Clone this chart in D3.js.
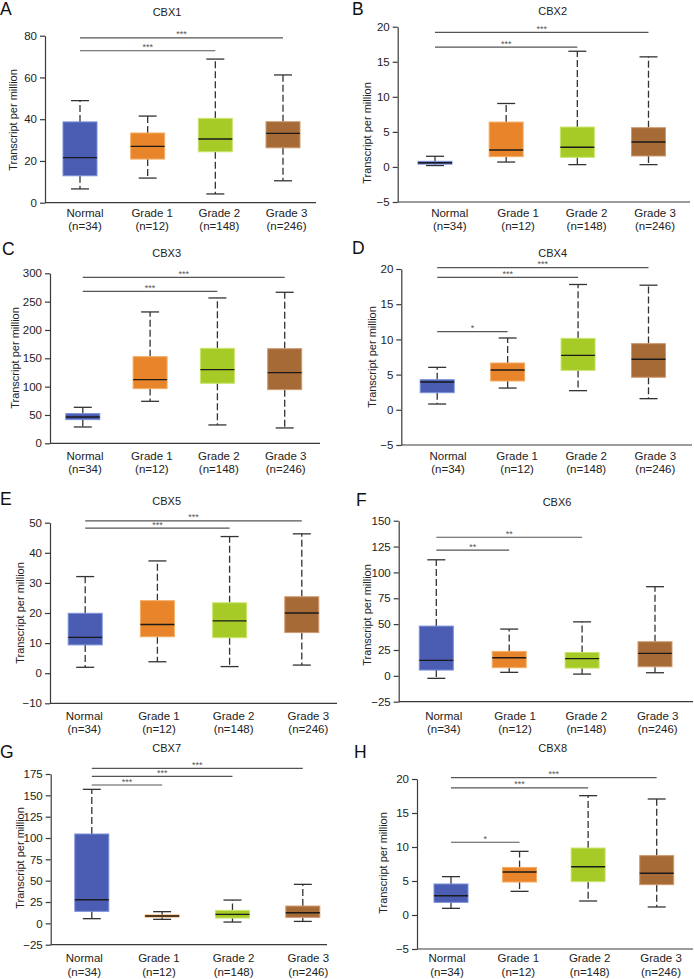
<!DOCTYPE html>
<html>
<head>
<meta charset="utf-8">
<script src="https://cdn.jsdelivr.net/npm/d3@7"></script>
<style>
  html, body { margin: 0; padding: 0; background: #fff; }
  svg { display: block; }
  text { font-family: "Liberation Sans", Arial, Helvetica, sans-serif; }
</style>
</head>
<body>
<script>
// ---------------- DATA ----------------
const categories = ["Normal", "Grade 1", "Grade 2", "Grade 3"];
const sampleSizes = ["(n=34)", "(n=12)", "(n=148)", "(n=246)"];
const genes = ["CBX1", "CBX2", "CBX3", "CBX4", "CBX5", "CBX6", "CBX7", "CBX8"];
const panelLetters = ["A", "B", "C", "D", "E", "F", "G", "H"];

// box statistics per gene, per category (Normal, Grade 1, Grade 2, Grade 3)
const whiskerMin = [
  [6.6, 11.8, 4.2, 10.5],
  [0.2, 0.7, 0.33, 0.33],
  [28.8, 74.1, 32.4, 27.1],
  [0.82, 3.09, 2.72, 1.58],
  [1.96, 3.8, 2.2, 2.7],
  [-2.4, 3.4, 1.7, 3.0],
  [5.5, 4.7, 1.56, 2.3],
  [0.98, 3.48, 2.06, 1.18]
];
const q1Values = [
  [12.9, 20.9, 24.4, 26.3],
  [0.4, 1.47, 1.37, 1.56],
  [41.8, 96.5, 105.9, 94.7],
  [2.43, 4.09, 5.6, 4.62],
  [9.4, 12.1, 11.8, 13.5],
  [5.6, 7.9, 7.5, 8.8],
  [14.1, 7.4, 6.25, 7.0],
  [1.86, 4.85, 4.9, 4.46]
];
const medians = [
  [21.6, 27.0, 30.5, 33.2],
  [0.6, 2.42, 2.8, 3.55],
  [46.5, 112.4, 130.0, 124.7],
  [3.95, 5.66, 7.73, 7.17],
  [11.9, 16.2, 17.4, 20.0],
  [15.0, 17.5, 16.6, 21.7],
  [27.7, 8.6, 10.5, 12.5],
  [2.84, 6.32, 7.1, 6.13]
];
const q3Values = [
  [38.7, 33.4, 40.4, 38.8],
  [0.8, 6.4, 5.69, 5.6],
  [52.4, 152.9, 167.6, 167.0],
  [4.28, 6.65, 10.15, 9.4],
  [19.9, 24.1, 23.4, 25.4],
  [48.1, 23.6, 22.6, 33.0],
  [104.7, 9.8, 15.2, 20.3],
  [4.56, 7.0, 9.85, 8.73]
];
const whiskerMax = [
  [48.9, 41.5, 68.8, 61.2],
  [1.52, 9.05, 16.5, 15.7],
  [63.5, 231.8, 256.5, 266.5],
  [6.03, 10.2, 17.8, 17.7],
  [32.1, 37.3, 45.4, 46.3],
  [112.2, 45.2, 52.2, 86.2],
  [157.0, 13.7, 27.3, 45.7],
  [5.64, 9.36, 17.55, 17.06]
];

const yDomains = [[0, 80], [-5, 20], [0, 300], [-5, 20], [-10, 50], [-25, 150], [-25, 175], [-5, 20]];
const yTicks = [
  [0, 20, 40, 60, 80],
  [-5, 0, 5, 10, 15, 20],
  [0, 50, 100, 150, 200, 250, 300],
  [-5, 0, 5, 10, 15, 20],
  [-10, 0, 10, 20, 30, 40, 50],
  [-25, 0, 25, 50, 75, 100, 125, 150],
  [-25, 0, 25, 50, 75, 100, 125, 150, 175],
  [-5, 0, 5, 10, 15, 20]
];
const yLabel = "Transcript per million";

// significance brackets: [target category index, bracket value, label] (all start from Normal)
const sigBrackets = [
  [[3, 79.0, "***"], [2, 72.8, "***"]],
  [[3, 19.2, "***"], [2, 17.1, "***"]],
  [[3, 292.9, "***"], [2, 268.2, "***"]],
  [[3, 20.2, "***"], [2, 18.8, "***"], [1, 11.1, "*"]],
  [[3, 50.6, "***"], [2, 48.2, "***"]],
  [[2, 134.0, "**"], [1, 121.6, "**"]],
  [[3, 181.6, "***"], [2, 172.3, "***"], [1, 162.1, "***"]],
  [[3, 20.2, "***"], [2, 18.7, "***"], [1, 10.7, "*"]]
];

// ---------------- LAYOUT / STYLE ----------------
const fills   = ["#4a5db3", "#e8852a", "#a6cb27", "#a66a37"];
const strokes = ["#7a90d8", "#f4ad66", "#cbe46e", "#cf9a70"];

const layouts = [
  {ax: 45,    xEnd: 316, yPx: [202.7, 35.7], box: [80, 283],    lab: [85, 286.5],  labY: 216.7, title: [167, 15.5],   letter: [0, 15],      ylab: [13.5, 120]},
  {ax: 397.7, xEnd: 690, yPx: [202, 26.7],   box: [435, 648.5], lab: [449.7, 655], labY: 216.7, title: [552.7, 15],   letter: [352, 15],    ylab: [367.5, 133]},
  {ax: 50,    xEnd: 320, yPx: [443.3, 273.3],box: [82.8, 284.7],lab: [85, 285.7],  labY: 460,   title: [166.7, 256.5],letter: [2, 255],     ylab: [15.5, 358]},
  {ax: 401.3, xEnd: 692, yPx: [445, 269],    box: [437.2, 648.5],lab:[448, 655.3], labY: 460,   title: [552.7, 256.5],letter: [352, 254],   ylab: [372, 357]},
  {ax: 50,    xEnd: 337, yPx: [703.3, 522.7],box: [85.2, 301.8],lab: [84.3, 308.3],labY: 720,   title: [166.7, 505],  letter: [0, 505],     ylab: [20, 613]},
  {ax: 398.7, xEnd: 693, yPx: [701.7, 520.7],box: [436.3, 655], lab: [443.7, 657.7],labY: 720,  title: [557, 505.5],  letter: [356, 505.5], ylab: [367, 615]},
  {ax: 50.7,  xEnd: 327, yPx: [944.7, 774],  box: [91.8, 302.8],lab: [84.3, 308.3],labY: 962.3, title: [166.7, 751.5],letter: [0, 758],     ylab: [20, 858]},
  {ax: 417,   xEnd: 693, yPx: [949, 779],    box: [451, 656.7], lab: [447, 661],   labY: 962.3, title: [552.7, 751.5],letter: [354, 758],   ylab: [383.5, 863]}
];

const boxWidth = 34;
const capWidth = 18;
const axisColor = "#3a3a3a";

// ---------------- DRAW ----------------
const svg = d3.select("body").append("svg")
  .attr("width", 694).attr("height", 979)
  .attr("viewBox", "0 0 694 979");

genes.forEach((gene, p) => {
  const L = layouts[p];
  const g = svg.append("g");

  const y = d3.scaleLinear().domain(yDomains[p]).range(L.yPx);
  const x = d3.scalePoint().domain(categories).range(L.box);
  const xl = d3.scalePoint().domain(categories).range(L.lab);

  // y axis
  const yAxis = d3.axisLeft(y).tickValues(yTicks[p]).tickSize(5).tickSizeOuter(0).tickPadding(3)
    .tickFormat(d => d < 0 ? "\u2212" + Math.abs(d) : d);
  const ya = g.append("g").attr("transform", `translate(${L.ax},0)`).call(yAxis);
  ya.select(".domain").attr("stroke", axisColor).attr("stroke-width", 1.2);
  ya.selectAll(".tick line").attr("stroke", axisColor).attr("stroke-width", 1.2);
  ya.selectAll(".tick text").attr("fill", "#222").style("font-size", "11.5px")
    .style("font-family", "'Liberation Sans', Arial, sans-serif");

  // x axis line
  const yBottom = y(yDomains[p][0]);
  g.append("line")
    .attr("x1", L.ax).attr("x2", L.xEnd)
    .attr("y1", yBottom).attr("y2", yBottom)
    .attr("stroke", axisColor).attr("stroke-width", 1.2);

  // category labels
  categories.forEach((c, i) => {
    g.append("text").attr("x", xl(c)).attr("y", L.labY)
      .attr("text-anchor", "middle").attr("fill", "#222")
      .style("font-size", "11.5px").text(c);
    g.append("text").attr("x", xl(c)).attr("y", L.labY + 13.2)
      .attr("text-anchor", "middle").attr("fill", "#222")
      .style("font-size", "11.5px").text(sampleSizes[i]);
  });

  // y label
  g.append("text")
    .attr("transform", `translate(${L.ylab[0]},${L.ylab[1]}) rotate(-90)`)
    .attr("text-anchor", "middle").attr("dy", "0.35em").attr("fill", "#222")
    .style("font-size", "11px").text(yLabel);

  // title and letter
  g.append("text").attr("x", L.title[0]).attr("y", L.title[1])
    .attr("text-anchor", "middle").attr("fill", "#222")
    .style("font-size", "11px").text(gene);
  g.append("text").attr("x", L.letter[0]).attr("y", L.letter[1])
    .attr("fill", "#111").style("font-size", "17.5px").text(panelLetters[p]);

  // boxes
  categories.forEach((c, i) => {
    const cx = x(c);
    const lo = whiskerMin[p][i], q1 = q1Values[p][i], md = medians[p][i],
          q3 = q3Values[p][i], hi = whiskerMax[p][i];
    const bg = g.append("g");
    // whiskers (dashed)
    bg.append("line").attr("x1", cx).attr("x2", cx).attr("y1", y(q3)).attr("y2", y(hi))
      .attr("stroke", "#333").attr("stroke-width", 1.3).attr("stroke-dasharray", "7,3");
    bg.append("line").attr("x1", cx).attr("x2", cx).attr("y1", y(q1)).attr("y2", y(lo))
      .attr("stroke", "#333").attr("stroke-width", 1.3).attr("stroke-dasharray", "7,3");
    // caps
    [lo, hi].forEach(v => {
      bg.append("line").attr("x1", cx - capWidth / 2).attr("x2", cx + capWidth / 2)
        .attr("y1", y(v)).attr("y2", y(v))
        .attr("stroke", "#333").attr("stroke-width", 1.3);
    });
    // box
    bg.append("rect")
      .attr("x", cx - boxWidth / 2).attr("width", boxWidth)
      .attr("y", y(q3)).attr("height", Math.max(1, y(q1) - y(q3)))
      .attr("fill", fills[i]).attr("stroke", strokes[i]).attr("stroke-width", 1);
    // median
    bg.append("line").attr("x1", cx - boxWidth / 2).attr("x2", cx + boxWidth / 2)
      .attr("y1", y(md)).attr("y2", y(md))
      .attr("stroke", "#1a1a1a").attr("stroke-width", 1.4);
  });

  // significance brackets
  sigBrackets[p].forEach(([to, val, lab]) => {
    const x1 = x(categories[0]), x2 = x(categories[to]);
    const yy = y(val);
    g.append("line").attr("x1", x1).attr("x2", x2).attr("y1", yy).attr("y2", yy)
      .attr("stroke", "#555").attr("stroke-width", 1.2);
    g.append("text").attr("x", (x1 + x2) / 2).attr("y", yy - 0.5)
      .attr("text-anchor", "middle").attr("fill", "#555")
      .style("font-size", "9px").text(lab);
  });
});
</script>
</body>
</html>
